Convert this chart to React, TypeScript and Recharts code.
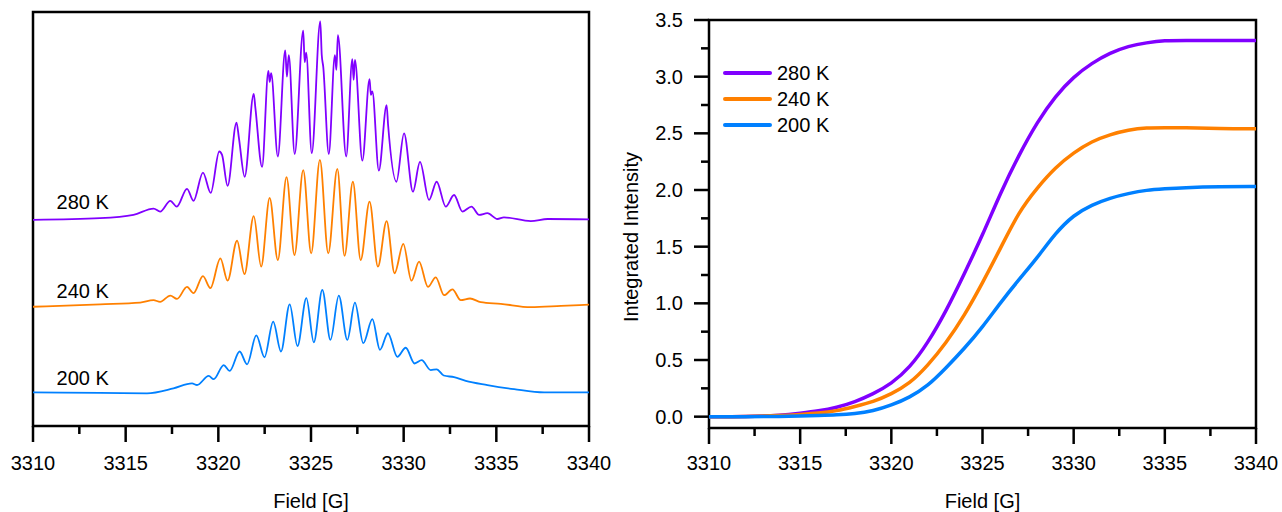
import React from 'react';
import { LineChart, Line, XAxis, YAxis, ReferenceArea, ReferenceDot, Legend } from 'recharts';

// ---------- shared axis ticks ----------
const fieldTicks = [3310, 3312.5, 3315, 3317.5, 3320, 3322.5, 3325, 3327.5, 3330, 3332.5, 3335, 3337.5, 3340];
const intensityTicks = [0, 0.25, 0.5, 0.75, 1, 1.25, 1.5, 1.75, 2, 2.25, 2.5, 2.75, 3, 3.25, 3.5];
const tempLabels = ['280 K', '240 K', '200 K'];
const seriesColors = ['#8000ff', '#ff8000', '#0080ff'];

// ---------- left panel: EPR spectra (arbitrary units, stacked) ----------
const field280 = [3310.00, 3313.62, 3315.42, 3316.51, 3316.86, 3317.41, 3317.76, 3318.31, 3318.66, 3319.17, 3319.59, 3320.05, 3320.20, 3320.50, 3320.98, 3321.11, 3321.42, 3321.91, 3322.00, 3322.36, 3322.70, 3322.77, 3322.85, 3323.21, 3323.61, 3323.70, 3323.80, 3324.12, 3324.58, 3324.66, 3324.74, 3325.04, 3325.50, 3325.58, 3325.66, 3325.96, 3326.29, 3326.37, 3326.45, 3326.90, 3327.23, 3327.30, 3327.37, 3327.77, 3328.16, 3328.23, 3328.31, 3328.66, 3329.08, 3329.16, 3329.61, 3330.02, 3330.50, 3330.88, 3331.37, 3331.78, 3332.27, 3332.72, 3333.17, 3333.66, 3334.07, 3334.52, 3335.06, 3335.41, 3336.86, 3337.77, 3340.00];
const spec280 = [49.8, 50.2, 51.0, 52.5, 51.8, 54.4, 53.0, 57.3, 54.4, 61.2, 56.3, 66.3, 65.5, 58.0, 73.3, 69.6, 60.2, 80.2, 76.8, 62.6, 85.8, 83.1, 85.2, 65.1, 90.7, 84.4, 89.6, 65.7, 95.5, 87.9, 90.2, 65.9, 97.7, 89.6, 86.8, 65.7, 89.6, 86.0, 94.4, 65.1, 88.6, 83.6, 88.4, 64.1, 83.8, 80.0, 80.8, 61.7, 77.5, 72.7, 59.0, 70.7, 56.6, 63.8, 54.6, 59.0, 53.0, 55.8, 51.8, 53.0, 51.0, 51.4, 50.0, 50.4, 49.5, 50.0, 49.9];

const field240 = [3310.00, 3313.62, 3315.78, 3316.50, 3316.86, 3317.41, 3317.77, 3318.31, 3318.66, 3319.17, 3319.57, 3320.11, 3320.50, 3321.01, 3321.41, 3321.91, 3322.31, 3322.77, 3323.21, 3323.68, 3324.11, 3324.58, 3325.01, 3325.48, 3325.93, 3326.42, 3326.81, 3327.26, 3327.68, 3328.16, 3328.61, 3329.08, 3329.51, 3329.98, 3330.42, 3330.83, 3331.31, 3331.73, 3332.18, 3332.63, 3333.08, 3333.58, 3334.16, 3335.24, 3336.86, 3338.49, 3340.00];
const spec240 = [28.8, 29.4, 29.8, 30.4, 30.0, 31.5, 30.7, 33.6, 32.1, 36.2, 33.3, 40.5, 35.1, 44.8, 36.7, 50.7, 38.5, 55.1, 40.1, 60.1, 41.3, 61.8, 41.7, 64.3, 41.7, 62.1, 41.1, 59.0, 40.1, 54.2, 38.5, 49.5, 36.9, 44.0, 35.1, 39.7, 33.6, 35.9, 31.6, 33.0, 30.4, 30.8, 29.9, 29.5, 28.7, 29.0, 29.3];

const field200 = [3310.00, 3313.62, 3316.15, 3317.58, 3318.58, 3318.85, 3319.48, 3319.75, 3320.29, 3320.61, 3321.15, 3321.55, 3322.05, 3322.49, 3322.96, 3323.38, 3323.85, 3324.27, 3324.75, 3325.15, 3325.61, 3326.05, 3326.50, 3326.96, 3327.37, 3327.82, 3328.31, 3328.72, 3329.15, 3329.66, 3330.11, 3330.59, 3330.97, 3331.46, 3331.78, 3332.16, 3332.72, 3333.35, 3334.52, 3335.96, 3337.58, 3340.00];
const spec200 = [8.1, 8.0, 7.9, 9.1, 10.3, 9.9, 12.1, 11.3, 14.7, 13.3, 18.0, 14.9, 21.9, 16.6, 25.2, 18.0, 29.4, 19.3, 30.9, 20.2, 32.9, 20.8, 31.5, 20.8, 29.8, 20.0, 25.8, 18.4, 22.4, 16.7, 18.9, 15.1, 15.9, 13.5, 13.7, 12.2, 11.8, 10.9, 9.9, 8.9, 8.1, 8.1];

// ---------- right panel: integrated intensity ----------
const fieldInt = [3310, 3312, 3314, 3315, 3316, 3317, 3318, 3319, 3320, 3321, 3322, 3323, 3324, 3325, 3326, 3327, 3328, 3329, 3330, 3331, 3332, 3333, 3334, 3335, 3336, 3338, 3340];
const int280 = [0.00, 0.00, 0.01, 0.03, 0.05, 0.08, 0.13, 0.20, 0.29, 0.43, 0.65, 0.93, 1.26, 1.60, 1.98, 2.31, 2.60, 2.83, 3.00, 3.12, 3.21, 3.27, 3.30, 3.32, 3.32, 3.32, 3.32];
const int240 = [0.00, 0.00, 0.01, 0.02, 0.03, 0.05, 0.09, 0.13, 0.20, 0.29, 0.45, 0.65, 0.89, 1.18, 1.49, 1.81, 2.02, 2.20, 2.33, 2.43, 2.49, 2.53, 2.55, 2.55, 2.55, 2.54, 2.54];
const int200 = [0.00, 0.00, 0.00, 0.005, 0.01, 0.015, 0.025, 0.05, 0.10, 0.17, 0.27, 0.43, 0.60, 0.79, 1.01, 1.21, 1.40, 1.62, 1.78, 1.87, 1.93, 1.97, 2.00, 2.01, 2.02, 2.03, 2.03];

const toPoints = (xs: number[], ys: number[]) => xs.map((x, i) => ({ x, y: ys[i] }));
const spectra = [toPoints(field280, spec280), toPoints(field240, spec240), toPoints(field200, spec200)];
const intData = fieldInt.map((x, i) => ({ x, t280: int280[i], t240: int240[i], t200: int200[i] }));

const FONT = '"Liberation Sans", Arial, Helvetica, sans-serif';

const makeFieldTick = (labelOffset: number) => (props: any) => {
  const { x, y, payload } = props;
  const v = payload.value as number;
  const major = Math.abs(v % 5) < 1e-6;
  return (
    <g>
      <line x1={x} x2={x} y1={y} y2={y + (major ? 16 : 8)} stroke="#000" strokeWidth={2.5} />
      {major && (
        <text x={x} y={y + labelOffset} textAnchor="middle" dominantBaseline="central" fontSize={20} fill="#000" fontFamily={FONT}>
          {v}
        </text>
      )}
    </g>
  );
};

const IntTick = (props: any) => {
  const { x, y, payload } = props;
  const v = payload.value as number;
  const major = Math.abs(v * 2 - Math.round(v * 2)) < 1e-6;
  return (
    <g>
      <line x1={x} x2={x - (major ? 15 : 8)} y1={y} y2={y} stroke="#000" strokeWidth={2.5} />
      {major && (
        <text x={x - 26} y={y} textAnchor="end" dominantBaseline="central" fontSize={20} fill="#000" fontFamily={FONT}>
          {v.toFixed(1)}
        </text>
      )}
    </g>
  );
};

const renderLegend = (props: any) => {
  const items = [...(props.payload || [])].sort(
    (a: any, b: any) => tempLabels.indexOf(a.value) - tempLabels.indexOf(b.value)
  );
  return (
    <div style={{ display: 'flex', flexDirection: 'column', fontFamily: FONT }}>
      {items.map((e: any) => (
        <div key={e.value} style={{ display: 'flex', alignItems: 'center', height: 26 }}>
          <div style={{ width: 49, height: 4, background: e.color, borderRadius: 2 }} />
          <span style={{ marginLeft: 5, fontSize: 20, color: '#000', lineHeight: '26px' }}>{e.value}</span>
        </div>
      ))}
    </div>
  );
};

const textShape = (label: string) => (p: any) => (
  <text x={p.cx} y={p.cy} textAnchor="middle" dominantBaseline="central" fontSize={20} fill="#000" fontFamily={FONT}>
    {label}
  </text>
);

const labelAnchors = [
  { x: 3312.68, y: 54.1 },
  { x: 3312.68, y: 32.6 },
  { x: 3312.68, y: 11.6 },
];

export default function App() {
  return (
    <div style={{ position: 'absolute', left: 0, top: 0, width: 1282, height: 512, background: '#fff', fontFamily: FONT }}>
      <div style={{ position: 'absolute', left: 0, top: 0 }}>
        <LineChart width={640} height={512} margin={{ top: 12, right: 51, bottom: 0, left: 33 }}>
          <XAxis
            type="number"
            dataKey="x"
            domain={[3310, 3340]}
            ticks={fieldTicks}
            interval={0}
            allowDataOverflow
            axisLine={false}
            tickLine={false}
            tickSize={0}
            tickMargin={0}
            height={86}
            tick={makeFieldTick(36.5)}
            label={(p: any) => {
              const vb = p.viewBox || {};
              return (
                <text x={vb.x + vb.width / 2} y={vb.y + 75} textAnchor="middle" dominantBaseline="central" fontSize={20} fill="#000" fontFamily={FONT}>
                  Field [G]
                </text>
              );
            }}
          />
          <YAxis type="number" dataKey="y" domain={[0, 100]} hide width={0} allowDataOverflow />
          {spectra.map((d, i) => (
            <Line
              key={tempLabels[i]}
              data={d}
              dataKey="y"
              type="monotone"
              stroke={seriesColors[i]}
              strokeWidth={1.8}
              strokeLinejoin="round"
              dot={false}
              isAnimationActive={false}
            />
          ))}
          {labelAnchors.map((a, i) => (
            <ReferenceDot key={tempLabels[i]} x={a.x} y={a.y} r={0} shape={textShape(tempLabels[i])} />
          ))}
          <ReferenceArea x1={3310} x2={3340} y1={0} y2={100} fill="none" fillOpacity={0} stroke="#000" strokeWidth={2.5} />
        </LineChart>
      </div>
      <div style={{ position: 'absolute', left: 600, top: 0 }}>
        <LineChart width={682} height={512} data={intData} margin={{ top: 20, right: 26, bottom: 0, left: 0 }}>
          <XAxis
            type="number"
            dataKey="x"
            domain={[3310, 3340]}
            ticks={fieldTicks}
            interval={0}
            allowDataOverflow
            axisLine={false}
            tickLine={false}
            tickSize={0}
            tickMargin={0}
            height={84}
            tick={makeFieldTick(34.5)}
            label={(p: any) => {
              const vb = p.viewBox || {};
              return (
                <text x={vb.x + vb.width / 2} y={vb.y + 73} textAnchor="middle" dominantBaseline="central" fontSize={20} fill="#000" fontFamily={FONT}>
                  Field [G]
                </text>
              );
            }}
          />
          <YAxis
            type="number"
            domain={[-0.1, 3.5]}
            ticks={intensityTicks}
            interval={0}
            allowDataOverflow
            axisLine={false}
            tickLine={false}
            tickSize={0}
            tickMargin={0}
            width={109}
            tick={IntTick}
            label={() => (
              <text
                x={31}
                y={237}
                transform="rotate(-90, 31, 237)"
                textAnchor="middle"
                dominantBaseline="central"
                fontSize={20}
                fill="#000"
                fontFamily={FONT}
              >
                Integrated Intensity
              </text>
            )}
          />
          <Line dataKey="t280" name={tempLabels[0]} type="basis" stroke={seriesColors[0]} strokeWidth={3.5} dot={false} isAnimationActive={false} />
          <Line dataKey="t240" name={tempLabels[1]} type="basis" stroke={seriesColors[1]} strokeWidth={3.5} dot={false} isAnimationActive={false} />
          <Line dataKey="t200" name={tempLabels[2]} type="basis" stroke={seriesColors[2]} strokeWidth={3.5} dot={false} isAnimationActive={false} />
          <ReferenceArea x1={3310} x2={3340} y1={-0.1} y2={3.5} fill="none" fillOpacity={0} stroke="#000" strokeWidth={2.5} />
          <Legend
            layout="vertical"
            align="center"
            verticalAlign="middle"
            content={renderLegend}
            wrapperStyle={{ left: 123, top: 60, width: 120 }}
          />
        </LineChart>
      </div>
    </div>
  );
}
